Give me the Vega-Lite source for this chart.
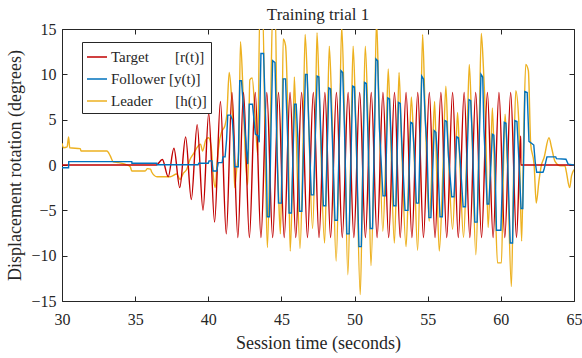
{
  "$schema": "https://vega.github.io/schema/vega-lite/v6.json",
  "width": 512,
  "height": 272,
  "autosize": {"type": "none"},
  "padding": {"left": 62, "top": 29, "right": 8, "bottom": 57},
  "background": "white",
  "title": {"text": "Training trial 1", "font": "Liberation Serif", "fontSize": 17, "fontWeight": "normal", "color": "#262626", "offset": -3},
  "config": {
    "view": {"stroke": null},
    "axis": {"labelFont": "Liberation Serif", "titleFont": "Liberation Serif", "labelFontSize": 16, "titleFontSize": 18, "titleFontWeight": "normal", "labelColor": "#262626", "titleColor": "#262626", "domainColor": "#262626", "tickColor": "#262626", "grid": false, "tickSize": -5, "domainWidth": 1, "labelFlush": false}
  },
  "datasets": {
    "r": [
      {"t":30,"v":0},{"t":36.45,"v":0},{"t":36.86,"v":0.6},{"t":37.26,"v":-1.3},{"t":37.65,"v":1.85},{"t":38.05,"v":-2.5},{"t":38.45,"v":3.1},{"t":38.84,"v":-3.8},{"t":39.24,"v":4.45},{"t":39.64,"v":-5.0},{"t":40.03,"v":5.7},{"t":40.43,"v":-6.3},{"t":40.83,"v":7.0},{"t":41.23,"v":-7.6},{"t":41.62,"v":8},
      {"t":42.02,"v":-8},{"t":42.41,"v":8},{"t":42.81,"v":-8},{"t":43.21,"v":8},{"t":43.6,"v":-8},{"t":44.0,"v":8},{"t":44.4,"v":-8},{"t":44.8,"v":8},{"t":45.19,"v":-8},{"t":45.59,"v":8},{"t":45.98,"v":-8},{"t":46.38,"v":8},{"t":46.78,"v":-8},{"t":47.18,"v":8},{"t":47.57,"v":-8},{"t":47.97,"v":8},{"t":48.36,"v":-8},{"t":48.76,"v":8},{"t":49.16,"v":-8},{"t":49.56,"v":8},{"t":49.95,"v":-8},{"t":50.35,"v":8},{"t":50.74,"v":-8},{"t":51.14,"v":8},{"t":51.54,"v":-8},{"t":51.94,"v":8},{"t":52.33,"v":-8},{"t":52.73,"v":8},{"t":53.12,"v":-8},{"t":53.52,"v":8},{"t":53.92,"v":-8},{"t":54.32,"v":8},{"t":54.71,"v":-8},{"t":55.11,"v":8},{"t":55.5,"v":-8},{"t":55.9,"v":8},{"t":56.3,"v":-8},{"t":56.7,"v":8},{"t":57.09,"v":-8},{"t":57.49,"v":8},{"t":57.88,"v":-8},{"t":58.28,"v":8},{"t":58.68,"v":-8},{"t":59.08,"v":8},{"t":59.47,"v":-8},{"t":59.87,"v":8},{"t":60.27,"v":-8},{"t":60.67,"v":8},{"t":61.07,"v":-8},{"t":61.36,"v":3.2},{"t":61.365,"v":0},{"t":65,"v":0}
    ],
    "y": [
      {"t":30,"v":-0.3},{"t":30.45,"v":-0.3},{"t":30.46,"v":0.37},{"t":34.77,"v":0.37},{"t":34.78,"v":0.2},{"t":36.48,"v":0.2},{"t":36.49,"v":0.03},{"t":39.3,"v":0.03},{"t":39.35,"v":0.2},{"t":40.0,"v":0.2},{"t":40.05,"v":0.45},{"t":40.25,"v":0.45},{"t":40.32,"v":-0.66},{"t":40.58,"v":-0.66},{"t":40.68,"v":0.26},{"t":40.95,"v":0.26},{"t":41.0,"v":0.9},{"t":41.15,"v":0.9},{"t":41.25,"v":2.8},{"t":41.33,"v":5.5},{"t":41.52,"v":5.5},{"t":41.64,"v":5.0},{"t":41.72,"v":3.2},{"t":41.8,"v":-0.2},{"t":42.05,"v":-0.2},{"t":42.15,"v":9.3},{"t":42.27,"v":9.3},{"t":42.38,"v":6.9},{"t":42.5,"v":4.0},{"t":42.62,"v":1.4},{"t":42.7,"v":0.1},{"t":42.8,"v":6.7},{"t":43.02,"v":6.7},{"t":43.1,"v":5.4},{"t":43.22,"v":3.4},{"t":43.4,"v":3.2},{"t":43.48,"v":2.5},{"t":43.6,"v":12.3},{"t":43.78,"v":12.3},{"t":43.92,"v":5.0},{"t":44.03,"v":-5.7},{"t":44.18,"v":-5.7},{"t":44.3,"v":5},{"t":44.4,"v":11.5},{"t":44.56,"v":11.3},{"t":44.7,"v":1.4},{"t":44.8,"v":-4.2},{"t":45.0,"v":-4.2},{"t":45.12,"v":9.5},{"t":45.28,"v":9.5},{"t":45.42,"v":3.2},{"t":45.52,"v":-5.3},{"t":45.68,"v":-5.3},
      {"t":45.89,"v":6.7},{"t":46.01,"v":6.7},{"t":46.12,"v":3.0},
      {"t":46.24,"v":-5.1},{"t":46.4,"v":-5.1},{"t":46.64,"v":10.0},{"t":46.76,"v":10.0},{"t":46.88,"v":4.0},
      {"t":47.04,"v":-3.3},{"t":47.2,"v":-3.3},{"t":47.44,"v":9.8},{"t":47.56,"v":9.7},{"t":47.68,"v":4.0},
      {"t":47.87,"v":-4.5},{"t":48.03,"v":-4.5},{"t":48.24,"v":8.5},{"t":48.36,"v":8.4},{"t":48.48,"v":3.0},
      {"t":48.66,"v":-6.1},{"t":48.82,"v":-6.1},{"t":49.07,"v":10.4},{"t":49.19,"v":10.2},{"t":49.31,"v":4.0},
      {"t":49.47,"v":-7.6},{"t":49.63,"v":-7.6},{"t":49.87,"v":8.7},{"t":49.99,"v":8.6},{"t":50.11,"v":3.0},
      {"t":50.3,"v":-9.0},{"t":50.46,"v":-9.0},{"t":50.68,"v":9.1},{"t":50.8,"v":9.0},{"t":50.92,"v":3.0},
      {"t":51.07,"v":-7.0},{"t":51.23,"v":-7.0},{"t":51.46,"v":11.7},{"t":51.58,"v":11.5},{"t":51.7,"v":4.0},
      {"t":51.94,"v":-3.4},{"t":52.1,"v":-3.4},{"t":52.27,"v":7.4},{"t":52.39,"v":7.3},{"t":52.51,"v":2.5},
      {"t":52.67,"v":-4.5},{"t":52.83,"v":-4.5},{"t":53.0,"v":6.9},{"t":53.12,"v":6.8},{"t":53.24,"v":2.0},
      {"t":53.45,"v":-5.0},{"t":53.65,"v":-5.0},{"t":53.84,"v":4.7},{"t":53.96,"v":4.6},{"t":54.08,"v":1.5},
      {"t":54.22,"v":-4.2},{"t":54.38,"v":-4.2},{"t":54.59,"v":9.8},{"t":54.71,"v":9.5},{"t":54.83,"v":5.0},{"t":54.95,"v":2.0},
      {"t":55.08,"v":-5.8},{"t":55.22,"v":-5.8},{"t":55.44,"v":3.8},{"t":55.56,"v":3.6},{"t":55.68,"v":0.5},
      {"t":55.84,"v":-5.7},{"t":56.0,"v":-5.7},{"t":56.18,"v":4.9},{"t":56.3,"v":4.8},{"t":56.42,"v":1.0},
      {"t":56.64,"v":-3.5},{"t":56.8,"v":-3.5},{"t":56.98,"v":3.1},{"t":57.1,"v":3.0},{"t":57.22,"v":0.5},
      {"t":57.42,"v":-4.6},{"t":57.58,"v":-4.6},{"t":57.82,"v":7.2},{"t":57.94,"v":7.1},{"t":58.06,"v":2.5},
      {"t":58.22,"v":-6.3},{"t":58.38,"v":-6.3},{"t":58.64,"v":10.0},{"t":58.76,"v":9.7},{"t":58.84,"v":4.0},{"t":58.92,"v":1.2},
      {"t":59.06,"v":-4.3},{"t":59.18,"v":-4.3},{"t":59.42,"v":3.4},{"t":59.52,"v":3.3},{"t":59.6,"v":0.5},
      {"t":59.7,"v":-7.2},{"t":60.0,"v":-7.2},{"t":60.23,"v":4.7},{"t":60.35,"v":4.6},{"t":60.47,"v":0},
      {"t":60.64,"v":-8.6},{"t":60.8,"v":-8.6},{"t":60.96,"v":4.9},{"t":61.1,"v":4.8},{"t":61.22,"v":1},
      {"t":61.38,"v":-4.8},{"t":61.5,"v":-4.8},{"t":61.64,"v":8.1},{"t":61.8,"v":8.0},{"t":61.92,"v":2.6},{"t":62.25,"v":2.2},{"t":62.35,"v":0.3},{"t":62.45,"v":-0.8},{"t":62.88,"v":-0.8},{"t":62.95,"v":-0.5},{"t":63.15,"v":0.9},{"t":63.75,"v":0.9},{"t":63.8,"v":0.7},{"t":64.45,"v":0.63},{"t":64.6,"v":0.1},{"t":65,"v":0.0}
    ],
    "h": [
      {"t":30.0,"v":2.4},{"t":30.1,"v":1.9},{"t":30.35,"v":2.0},{"t":30.45,"v":3.1},{"t":30.53,"v":1.9},{"t":31.25,"v":1.8},{"t":31.3,"v":1.55},{"t":33.07,"v":1.55},{"t":33.3,"v":1.0},{"t":33.5,"v":0.35},{"t":33.86,"v":0.26},{"t":34.3,"v":0.08},{"t":34.66,"v":-0.18},{"t":34.77,"v":-0.66},{"t":35.68,"v":-0.66},{"t":35.84,"v":-0.4},{"t":36.05,"v":-0.45},{"t":36.13,"v":-0.77},{"t":36.5,"v":-1.3},{"t":37.4,"v":-1.3},{"t":37.84,"v":-1.0},{"t":38.07,"v":-1.6},{"t":38.3,"v":-0.9},{"t":38.52,"v":-0.5},{"t":38.75,"v":0.6},{"t":38.97,"v":1.2},{"t":39.31,"v":2.1},{"t":39.47,"v":2.3},{"t":39.61,"v":1.55},{"t":39.84,"v":2.8},{"t":40.02,"v":3.0},{"t":40.2,"v":2.0},{"t":40.34,"v":-1.2},{"t":40.48,"v":-2.5},{"t":40.61,"v":0.5},{"t":40.75,"v":2.5},{"t":40.9,"v":3.6},{"t":41.13,"v":4.3},{"t":41.27,"v":5.6},{"t":41.43,"v":10.2},{"t":41.59,"v":7.5},{"t":41.7,"v":4.0},{"t":41.8,"v":-2.5},{"t":41.95,"v":-0.3},{"t":42.08,"v":1.5},{"t":42.2,"v":13.6},{"t":42.38,"v":7.8},{"t":42.54,"v":0.8},{"t":42.7,"v":-2.2},{"t":42.84,"v":9.4},{"t":43.0,"v":9.6},{"t":43.2,"v":5.5},{"t":43.38,"v":1.1},{"t":43.52,"v":17},{"t":43.72,"v":17},{"t":43.9,"v":0.6},{"t":44.04,"v":-9.1},{"t":44.25,"v":5.0},{"t":44.4,"v":17},{"t":44.58,"v":17},{"t":44.72,"v":1.0},{"t":44.8,"v":-3.0},{"t":44.93,"v":-7.6},{"t":45.03,"v":1.0},{"t":45.12,"v":13.9},{"t":45.28,"v":13.2},{"t":45.45,"v":4.7},{"t":45.6,"v":-9.5},{"t":45.75,"v":-2.0},{"t":45.88,"v":9.7},{"t":46.0,"v":4},{"t":46.27,"v":-9.2},{"t":46.45,"v":0},{"t":46.62,"v":14.4},{"t":46.8,"v":8},{"t":47.13,"v":-7.0},{"t":47.3,"v":2},{"t":47.43,"v":14.6},{"t":47.6,"v":7},{"t":47.95,"v":-8.6},{"t":48.12,"v":2},{"t":48.27,"v":13.1},{"t":48.45,"v":6},{"t":48.74,"v":-10.6},{"t":48.95,"v":2},{"t":49.12,"v":15.3},{"t":49.3,"v":6},{"t":49.54,"v":-12.1},{"t":49.75,"v":2},{"t":49.9,"v":13.1},{"t":50.08,"v":5},{"t":50.39,"v":-14.3},{"t":50.58,"v":2},{"t":50.73,"v":13.1},{"t":50.9,"v":6},{"t":51.12,"v":-11.1},{"t":51.35,"v":3},{"t":51.5,"v":16},{"t":51.65,"v":8},{"t":51.93,"v":-7.3},{"t":52.15,"v":2},{"t":52.3,"v":10.6},{"t":52.45,"v":4},{"t":52.72,"v":-8.6},{"t":52.9,"v":1},{"t":53.04,"v":10.2},{"t":53.2,"v":3},{"t":53.52,"v":-9.0},{"t":53.72,"v":0},{"t":53.88,"v":7.5},{"t":54.05,"v":2},{"t":54.31,"v":-9.4},{"t":54.5,"v":2},{"t":54.65,"v":14.4},{"t":54.82,"v":6},{"t":55.1,"v":-6.2},{"t":55.3,"v":0},{"t":55.47,"v":7.0},{"t":55.6,"v":0},{"t":55.79,"v":-9.5},{"t":56.05,"v":0},{"t":56.24,"v":8.7},{"t":56.4,"v":2},{"t":56.7,"v":-7.1},{"t":56.9,"v":0},{"t":57.04,"v":5.8},{"t":57.2,"v":0},{"t":57.45,"v":-8.0},{"t":57.68,"v":2},{"t":57.84,"v":11.1},{"t":58.0,"v":5},{"t":58.29,"v":-9.9},{"t":58.5,"v":2},{"t":58.66,"v":14.5},{"t":58.8,"v":11},{"t":58.95,"v":5},{"t":59.13,"v":-6.9},{"t":59.3,"v":0},{"t":59.42,"v":6.3},{"t":59.6,"v":-2.9},{"t":59.77,"v":-10.8},{"t":60.04,"v":-10.8},{"t":60.18,"v":0},{"t":60.29,"v":5.6},{"t":60.45,"v":0},{"t":60.72,"v":-13.4},{"t":60.88,"v":0},{"t":61.02,"v":8.2},{"t":61.22,"v":5.0},{"t":61.42,"v":-8.4},{"t":61.55,"v":2},{"t":61.7,"v":11.1},{"t":61.88,"v":10.4},{"t":62.04,"v":2.3},{"t":62.27,"v":0.1},{"t":62.42,"v":-4.2},{"t":62.6,"v":-1.8},{"t":62.76,"v":-0.1},{"t":62.95,"v":0.8},{"t":63.29,"v":3.0},{"t":63.47,"v":1.9},{"t":63.7,"v":0.4},{"t":64.08,"v":-0.1},{"t":64.38,"v":-0.1},{"t":64.47,"v":-0.7},{"t":64.7,"v":-2.5},{"t":64.83,"v":-1.2},{"t":65.0,"v":-0.5}
    ]
  },
  "layer": [
    {
      "data": {"name": "h"},
      "mark": {"type": "line", "interpolate": "monotone", "strokeWidth": 1.4, "clip": true},
      "encoding": {
        "x": {"field": "t", "type": "quantitative", "scale": {"domain": [30, 65], "nice": false}, "axis": {"orient": "bottom", "values": [30,35,40,45,50,55,60,65], "title": "Session time (seconds)", "labelPadding": 15, "titlePadding": 7}},
        "y": {"field": "v", "type": "quantitative", "scale": {"domain": [-15, 15], "nice": false}, "axis": {"orient": "left", "values": [-15,-10,-5,0,5,10,15], "title": "Displacement rotation (degrees)", "labelPadding": 11, "titlePadding": 6}},
        "color": {"datum": "Leader", "type": "nominal", "scale": {"domain": ["Target", "Follower", "Leader"], "range": ["#C00000", "#0072BD", "#EDB120"]},
          "legend": {"orient": "none", "legendX": 20, "legendY": 13, "title": null, "fillColor": "white", "strokeColor": "#262626", "padding": 4, "labelFont": "Liberation Serif", "labelFontSize": 15, "labelColor": "#262626", "symbolType": "stroke", "symbolSize": 400, "symbolStrokeWidth": 1.5, "rowPadding": 3, "labelOffset": 3,
            "labelExpr": "datum.label == 'Target' ? 'Target\u00a0\u00a0\u00a0\u00a0\u00a0\u00a0\u00a0[r(t)]' : datum.label == 'Follower' ? 'Follower\u00a0[y(t)]' : 'Leader\u00a0\u00a0\u00a0\u00a0\u00a0\u00a0[h(t)]'"}}
      }
    },
    {
      "data": {"name": "r"},
      "mark": {"type": "line", "interpolate": "monotone", "strokeWidth": 1.4, "clip": true},
      "encoding": {
        "x": {"field": "t", "type": "quantitative", "axis": {"orient": "top", "values": [30,35,40,45,50,55,60,65], "labels": false, "title": null}},
        "y": {"field": "v", "type": "quantitative", "axis": {"orient": "right", "values": [-15,-10,-5,0,5,10,15], "labels": false, "title": null}},
        "color": {"datum": "Target", "type": "nominal"}
      }
    },
    {
      "data": {"name": "y"},
      "mark": {"type": "line", "strokeWidth": 1.4, "clip": true},
      "encoding": {
        "x": {"field": "t", "type": "quantitative", "axis": null},
        "y": {"field": "v", "type": "quantitative", "axis": null},
        "color": {"datum": "Follower", "type": "nominal"}
      }
    }
  ],
  "resolve": {"axis": {"x": "independent", "y": "independent"}}
}
